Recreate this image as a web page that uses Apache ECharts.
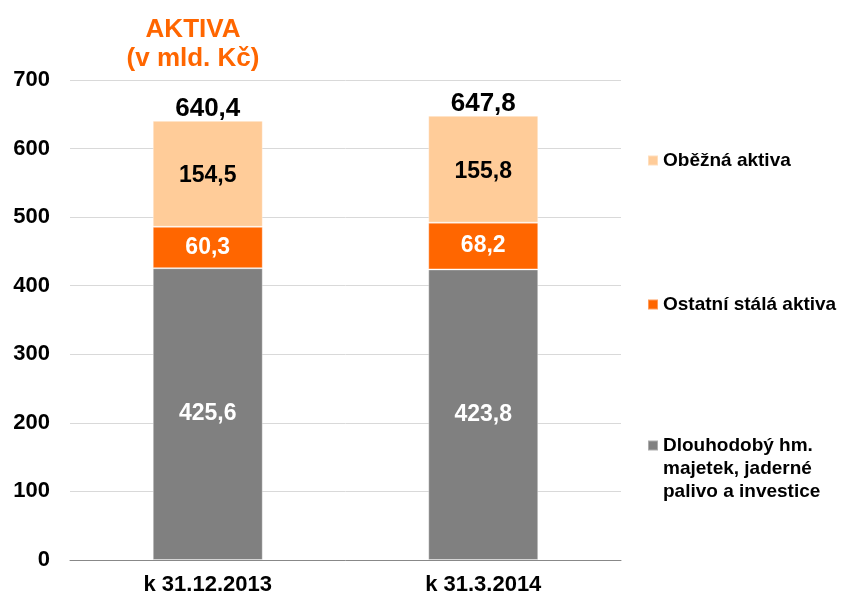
<!DOCTYPE html>
<html>
<head>
<meta charset="utf-8">
<script src="https://cdn.jsdelivr.net/npm/echarts@6/dist/echarts.min.js"></script>
<style>html,body{margin:0;padding:0;background:#fff}#c{width:843px;height:599px}</style>
</head>
<body>
<div id="c"></div>
<script>
var categories = ['k 31.12.2013', 'k 31.3.2014'];
var dlouhodoby = [425.6, 423.8];
var ostatni = [60.3, 68.2];
var obezna = [154.5, 155.8];
var totals = [640.4, 647.8];
var yTicks = [0, 100, 200, 300, 400, 500, 600, 700];

var nameObezna = 'Oběžná aktiva';
var nameOstatni = 'Ostatní stálá aktiva';
var nameDlouho = 'Dlouhodobý hm. majetek, jaderné palivo a investice';

var FONT = 'Liberation Sans, Arial, sans-serif';
function fmt(v) { return v.toFixed(1).replace('.', ','); }

var chart = echarts.init(document.getElementById('c'), null, {renderer: 'canvas'});
var legendText = {fontFamily: FONT, fontSize: 19, fontWeight: 'bold', color: '#000', lineHeight: 23};
chart.setOption({
  animation: false,
  title: {
    text: 'AKTIVA\n(v mld. Kč)',
    left: 188, top: 10, textAlign: 'center',
    textStyle: {fontFamily: FONT, fontSize: 26, fontWeight: 'bold', color: '#FF6600', lineHeight: 29}
  },
  grid: {left: 70, right: 222, top: 80, bottom: 39, containLabel: false},
  legend: [
    {data: [nameObezna], left: 642, top: 144, orient: 'vertical', icon: 'rect', itemWidth: 10, itemHeight: 10, textStyle: legendText, selectedMode: false},
    {data: [nameOstatni], left: 642, top: 288, orient: 'vertical', icon: 'rect', itemWidth: 10, itemHeight: 10, textStyle: legendText, selectedMode: false},
    {data: [nameDlouho], left: 642, top: 383, orient: 'vertical', icon: 'rect', itemWidth: 10, itemHeight: 10, selectedMode: false,
     formatter: function () { return '\n\nDlouhodobý hm.\nmajetek, jaderné\npalivo a investice'; },
     textStyle: legendText}
  ],
  xAxis: {
    type: 'category', data: categories,
    axisLine: {lineStyle: {color: '#888', width: 1}},
    axisTick: {show: false},
    axisLabel: {fontFamily: FONT, fontSize: 22, fontWeight: 'bold', color: '#000', margin: 14}
  },
  yAxis: {
    type: 'value', min: yTicks[0], max: yTicks[yTicks.length - 1], interval: 100,
    axisLine: {show: false}, axisTick: {show: false},
    axisLabel: {fontFamily: FONT, fontSize: 22, fontWeight: 'bold', color: '#000', margin: 20},
    splitLine: {lineStyle: {color: '#d9d9d9', width: 1}}
  },
  series: [
    {name: nameDlouho, type: 'bar', stack: 'a', data: dlouhodoby, barWidth: 110,
     itemStyle: {color: '#808080', borderColor: 'rgba(255,255,255,0.35)', borderWidth: 1},
     label: {show: true, position: 'inside', color: '#fff', fontFamily: FONT, fontSize: 23, fontWeight: 'bold',
       formatter: function (p) { return fmt(p.value); }}},
    {name: nameOstatni, type: 'bar', stack: 'a', data: ostatni, barWidth: 110,
     itemStyle: {color: '#FF6600', borderColor: 'rgba(255,255,255,0.35)', borderWidth: 1},
     label: {show: true, position: 'inside', color: '#fff', fontFamily: FONT, fontSize: 23, fontWeight: 'bold',
       formatter: function (p) { return fmt(p.value); }}},
    {name: nameObezna, type: 'bar', stack: 'a', data: obezna, barWidth: 110,
     itemStyle: {color: '#FFCC99', borderColor: 'rgba(255,255,255,0.35)', borderWidth: 1},
     label: {show: true, position: 'inside', offset: [0, 2], color: '#000', fontFamily: FONT, fontSize: 23, fontWeight: 'bold',
       formatter: function (p) { return fmt(p.value); }}},
    {name: 'total', type: 'bar', stack: 'a', data: totals.map(function () { return 0; }), barWidth: 110, silent: true,
     itemStyle: {color: 'transparent'},
     label: {show: true, position: 'top', distance: 1, offset: [0, 2], color: '#000', fontFamily: FONT, fontSize: 26, fontWeight: 'bold',
       formatter: function (p) { return fmt(totals[p.dataIndex]); }}}
  ]
});
</script>
</body>
</html>
